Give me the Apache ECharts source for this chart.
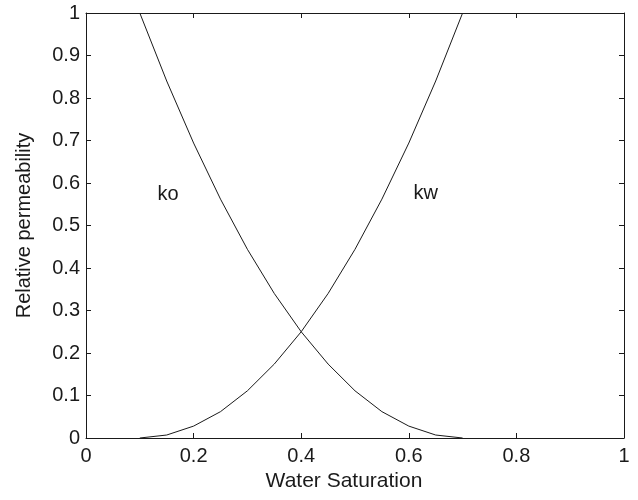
<!DOCTYPE html>
<html>
<head>
<meta charset="utf-8">
<script src="https://cdn.jsdelivr.net/npm/echarts@6/dist/echarts.min.js"></script>
<style>html,body{margin:0;padding:0;background:#fff;}#c{width:638px;height:500px;}</style>
</head>
<body>
<div id="c"></div>
<script>
// Water saturation sample points
var saturation = [0.1, 0.15, 0.2, 0.25, 0.3, 0.35, 0.4, 0.45, 0.5, 0.55, 0.6, 0.65, 0.7];
// Relative permeability to water (kw)
var kwValues = [0, 0.007, 0.028, 0.062, 0.111, 0.174, 0.25, 0.34, 0.444, 0.562, 0.694, 0.84, 1.0];
// Relative permeability to oil (ko)
var koValues = [1.0, 0.84, 0.694, 0.562, 0.444, 0.34, 0.25, 0.174, 0.111, 0.062, 0.028, 0.007, 0];
// Curve annotations
var labelTexts = ['ko', 'kw'];
var labelX = [0.132, 0.608];
var labelY = [0.572, 0.576];
var xTicks = [0, 0.2, 0.4, 0.6, 0.8, 1];
var yTicks = [0, 0.1, 0.2, 0.3, 0.4, 0.5, 0.6, 0.7, 0.8, 0.9, 1];
var xTitle = 'Water Saturation';
var yTitle = 'Relative permeability';

var FONT = 'Liberation Sans, Arial, Helvetica, sans-serif';
var INK = '#1a1a1a';

function pairs(xs, ys) { return xs.map(function (x, i) { return [x, ys[i]]; }); }
function fmt(v) { return String(Math.round(v * 10) / 10); }

var chart = echarts.init(document.getElementById('c'), null, { renderer: 'canvas' });

var axisLineStyle = { color: INK, width: 1 };
var baseX = {
  type: 'value', min: xTicks[0], max: xTicks[xTicks.length - 1], interval: 0.2,
  splitLine: { show: false },
  axisLine: { show: true, lineStyle: axisLineStyle, onZero: false },
  axisTick: { show: true, inside: true, length: 5, lineStyle: axisLineStyle }
};
var baseY = {
  type: 'value', min: yTicks[0], max: yTicks[yTicks.length - 1], interval: 0.1,
  splitLine: { show: false },
  axisLine: { show: true, lineStyle: axisLineStyle, onZero: false },
  axisTick: { show: true, inside: true, length: 5, lineStyle: axisLineStyle }
};

var labelData = labelTexts.map(function (t, i) { return { name: t, value: [labelX[i], labelY[i]] }; });

chart.setOption({
  backgroundColor: '#ffffff',
  animation: false,
  grid: { left: 86, right: 14, top: 13, bottom: 62, containLabel: false },
  xAxis: [
    Object.assign({}, baseX, {
      position: 'bottom',
      name: xTitle, nameLocation: 'middle', nameGap: 33,
      nameTextStyle: { fontFamily: FONT, fontSize: 21, color: INK, padding: [0, 22, 0, 0] },
      axisLabel: { show: true, margin: 8, fontFamily: FONT, fontSize: 20, color: INK, formatter: fmt }
    }),
    Object.assign({}, baseX, { position: 'top', axisLabel: { show: false } })
  ],
  yAxis: [
    Object.assign({}, baseY, {
      position: 'left',
      name: yTitle, nameLocation: 'middle', nameGap: 52,
      nameTextStyle: { fontFamily: FONT, fontSize: 20, color: INK },
      axisLabel: { show: true, margin: 6, fontFamily: FONT, fontSize: 20, color: INK, formatter: fmt }
    }),
    Object.assign({}, baseY, { position: 'right', axisLabel: { show: false } })
  ],
  series: [
    {
      name: 'ko', type: 'line', data: pairs(saturation, koValues),
      showSymbol: false, symbol: 'none', smooth: false, clip: true,
      lineStyle: { color: INK, width: 1 }
    },
    {
      name: 'kw', type: 'line', data: pairs(saturation, kwValues),
      showSymbol: false, symbol: 'none', smooth: false, clip: true,
      lineStyle: { color: INK, width: 1 }
    },
    {
      name: 'labels', type: 'scatter', data: labelData,
      symbol: 'circle', symbolSize: 1, itemStyle: { color: 'rgba(0,0,0,0)', opacity: 1 },
      label: {
        show: true, position: 'right', distance: 0,
        formatter: '{b}',
        fontFamily: FONT, fontSize: 20, color: INK
      },
      silent: true
    }
  ]
});
</script>
</body>
</html>
